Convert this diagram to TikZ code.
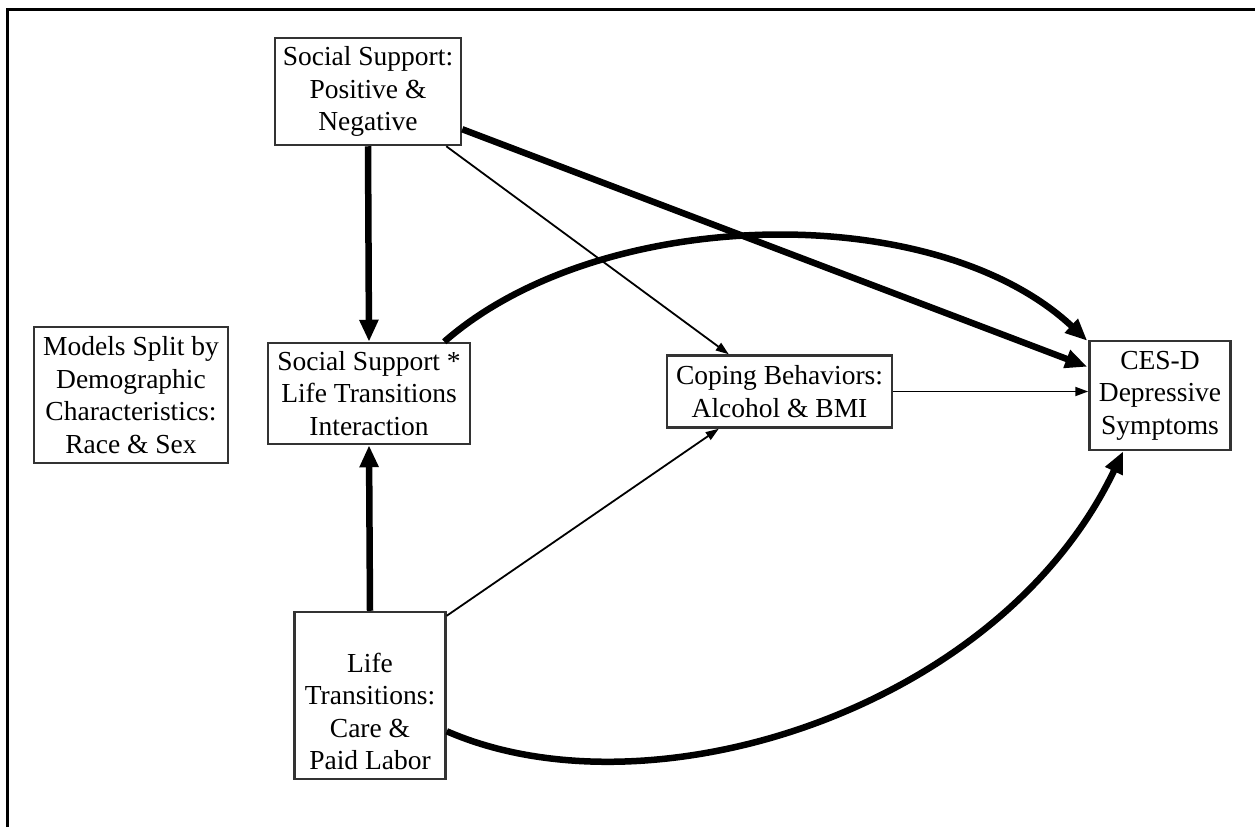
\documentclass[tikz,border=0pt]{standalone}
\usepackage{fontspec}
\setmainfont{Liberation Serif}
\usetikzlibrary{arrows.meta,calc}
\begin{document}
\begin{tikzpicture}[x=1pt,y=-1pt,
  box/.style={draw=black!80,line width=2.5pt,fill=white,align=center,inner sep=0pt,
    font=\fontsize{27.5}{32.5}\selectfont},
  txt/.style={align=center,inner sep=0pt,font=\fontsize{27.5}{32.5}\selectfont},
  heavy/.style={line width=6.5pt,-{Triangle[length=22pt,width=18pt]}},
  light/.style={line width=1.8pt,-{Triangle[length=13pt,width=9pt]}}]
\useasboundingbox (0,0) rectangle (1255,827);
% frame
\draw[line width=3pt] (7,827) -- (7,9) -- (1255,9);

% boxes
\node[box,minimum width=186pt,minimum height=107pt] (ss)   at (368,91.5)  {Social Support:\\Positive \&\\Negative};
\node[box,minimum width=202pt,minimum height=101pt] (sxl)  at (369,393.5) {Social Support *\\Life Transitions\\Interaction};
\node[box,minimum width=225pt,minimum height=72pt]  (cope) at (779.5,391.5) {Coping Behaviors:\\Alcohol \& BMI};
\node[box,minimum width=141pt,minimum height=109pt] (cesd) at (1160,395.5) {CES-D\\Depressive\\Symptoms};
\node[box,minimum width=194pt,minimum height=136pt] (mod)  at (131,395)   {Models Split by\\Demographic\\Characteristics:\\Race \& Sex};
\node[box,minimum width=151pt,minimum height=167pt] (lt)   at (370,695.5) {};
\node[txt,anchor=south] (ltt) at (370,770) {Life\\Transitions:\\Care \&\\Paid Labor};

% paths
\draw[heavy] (ss.south) -- (sxl.north);
\draw[heavy] (lt.north) -- (sxl.south);
\draw[heavy] ($(ss.south east)+(0,-17)$) -- ($(cesd.north west)+(-1,27)$);
\draw[light] ($(ss.south east)+(-16,0)$) -- ($(cope.north west)+(63,0)$);
\draw[light] ($(lt.north east)+(0,5)$) -- ($(cope.south west)+(53,0)$);
\draw[light] (cope.east) -- (cesd.west |- cope.east);
\draw[heavy] ($(sxl.north east)+(-27,0)$) .. controls (600,205) and (935,198) .. ($(cesd.north west)+(-1,1)$);
\draw[heavy] ($(lt.south east)+(0,-49)$) .. controls (650,820) and (1000,710) .. ($(cesd.south west)+(35,0)$);
\end{tikzpicture}
\end{document}
